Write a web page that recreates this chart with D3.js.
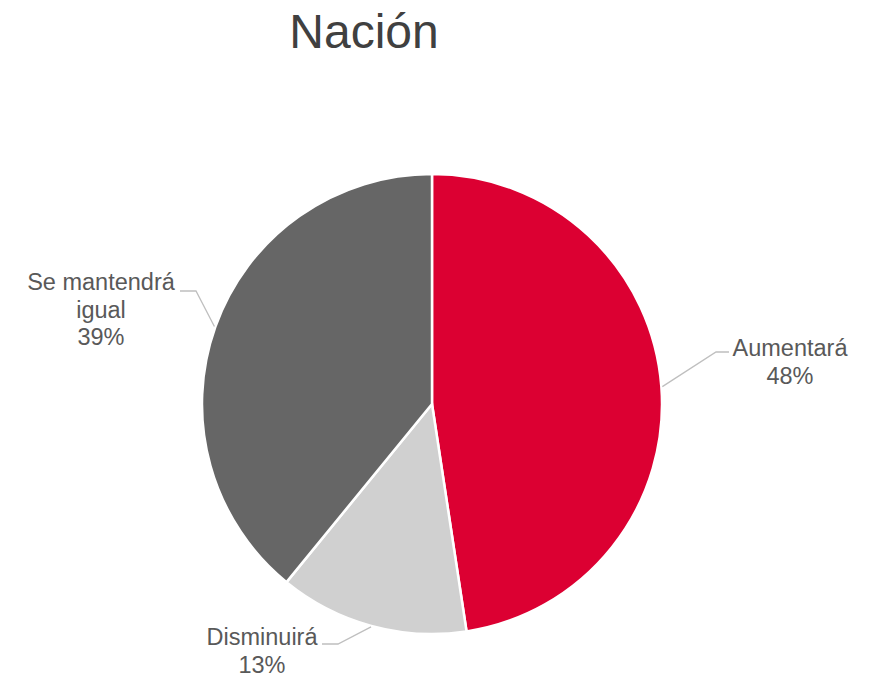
<!DOCTYPE html>
<html lang="es">
<head>
<meta charset="UTF-8">
<title>Nación</title>
<script src="https://d3js.org/d3.v7.min.js"></script>
<style>
body, html { margin: 0; padding: 0; background: #fff; }
text { font-family: Arial, "Liberation Sans", Helvetica, sans-serif; }
.title { fill: #404040; font-size: 48px; text-anchor: middle; }
.lbl { fill: #595959; font-size: 23.5px; text-anchor: middle; }
.leader { fill: none; stroke: #BFBFBF; stroke-width: 1.3px; }
</style>
</head>
<body>
<script>
// data
var categories = ["Aumentará", "Disminuirá", "Se mantendrá igual"];
var values = [47.6, 13.3, 39.1];
var labels = ["48%", "13%", "39%"];
var colors = ["#DC0032", "#D0D0D0", "#666666"];

var w = 876, h = 678;
var cx = 432, cy = 404, r = 230;

var svg = d3.select("body").append("svg")
	.attr("width", w)
	.attr("height", h);

svg.append("text")
	.classed("title", true)
	.attr("x", 364)
	.attr("y", 48)
	.text("Nación");

var pie = d3.pie().sort(null).value(function(d){ return d; });
var arcs = pie(values);

var arc = d3.arc().innerRadius(0).outerRadius(r);

var g = svg.append("g")
	.attr("transform", "translate(" + cx + "," + cy + ")");

g.selectAll(".slice")
	.data(arcs)
	.enter()
		.append("path")
		.classed("slice", true)
		.attr("d", arc)
		.style("fill", function(d, i){ return colors[i]; })
		.style("stroke", "#fff")
		.style("stroke-width", 2.5);

// label layout (elbow + text anchor), relative to the page
var layout = [
	{ elbow: [716, 352], end: [729, 352], text: [790, 356], lines: ["Aumentará"] },
	{ elbow: [338, 644], end: [322, 644], text: [262, 645], lines: ["Disminuirá"] },
	{ elbow: [196, 291], end: [180, 291], text: [101, 290], lines: ["Se mantendrá", "igual"] }
];

arcs.forEach(function(d, i){
	var mid = (d.startAngle + d.endAngle) / 2;
	var px = cx + Math.sin(mid) * (r + 1);
	var py = cy - Math.cos(mid) * (r + 1);
	var L = layout[i];
	svg.append("path")
		.classed("leader", true)
		.attr("d", d3.line()([[px, py], L.elbow, L.end]));

	var t = svg.append("text")
		.classed("lbl", true)
		.attr("x", L.text[0])
		.attr("y", L.text[1]);
	L.lines.concat([labels[i]]).forEach(function(s, k){
		t.append("tspan")
			.attr("x", L.text[0])
			.attr("dy", k === 0 ? 0 : 27.5)
			.text(s);
	});
});
</script>
</body>
</html>
